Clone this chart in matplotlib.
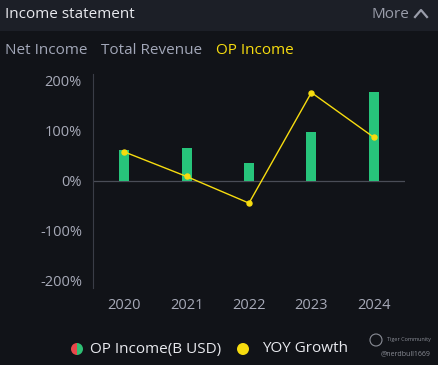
import numpy as np
import matplotlib.pyplot as plt
from matplotlib.patches import Rectangle, Wedge

# datos
years = ["2020", "2021", "2022", "2023", "2024"]
op_income = [1.21, 1.31, 0.71, 1.92, 3.52]   # B USD (escala secundaria oculta)
yoy_growth = [57, 8, -45, 175, 86]            # %
pct_ticks = [-200, -100, 0, 100, 200]
tabs = ["Net Income", "Total Revenue", "OP Income"]

BG = "#111318"
HEADER = "#1c1f27"
GREY = "#a7aab8"
GREEN = "#27c47b"
YELLOW = "#f7dc0f"

plt.rcParams['font.family'] = ['Open Sans', 'DejaVu Sans']

W, H = 439, 365
fig = plt.figure(figsize=(W / 100, H / 100), dpi=100, facecolor=BG)

# cabecera
fig.patches.append(Rectangle((0, 1 - 31 / H), 1, 31 / H, transform=fig.transFigure,
                             facecolor=HEADER, edgecolor="none", zorder=0))
fig.text(5 / W, 1 - 14 / H, "Income statement", color="#e8e9ee", fontsize=11,
         va="center", ha="left")
fig.text(409 / W, 1 - 14 / H, "More", color="#9a9daa", fontsize=11,
         va="center", ha="right")
fig.lines.append(plt.Line2D([415 / W, 421 / W, 427 / W],
                            [1 - 17 / H, 1 - 10 / H, 1 - 17 / H],
                            transform=fig.transFigure, color="#9a9daa", lw=1.6))

# pestañas
tab_x = [5, 101, 216]
tab_colors = ["#a2a7b8", "#a2a7b8", YELLOW]
for t, x, c in zip(tabs, tab_x, tab_colors):
    fig.text(x / W, 1 - 51 / H, t, color=c, fontsize=11, va="center", ha="left")

# ejes principales (porcentaje)
left, right = 93, 405
top, bottom = 80, 281
ax = fig.add_axes([left / W, 1 - bottom / H, (right - left) / W, (bottom - top) / H])
ax.set_facecolor("none")
ax.set_xlim(-0.5, len(years) - 0.5)
ax.set_ylim(-200, 200)
ax.set_yticks(pct_ticks)
ax.set_yticklabels([f"{v}%" for v in pct_ticks])
ax.set_xticks(range(len(years)))
ax.set_xticklabels(years)
ax.tick_params(axis="both", length=0, colors=GREY, labelsize=10.5)
ax.tick_params(axis="y", pad=8)
ax.tick_params(axis="x", pad=12)
for s in ["top", "right", "bottom"]:
    ax.spines[s].set_visible(False)
ax.spines["left"].set_color("#3a3d47")
ax.spines["left"].set_bounds(-214, 212)
ax.axhline(0, color="#4a4d57", lw=0.9, zorder=1)

# barras en eje secundario
ax2 = ax.twinx()
ax2.set_ylim(-4, 4)
ax2.axis("off")
ax2.bar(range(len(years)), op_income, width=0.16, color=GREEN, zorder=2)

# linea de crecimiento
ax3 = ax.twinx()
ax3.set_ylim(-200, 200)
ax3.axis("off")
ax3.plot(range(len(years)), yoy_growth, color=YELLOW, lw=1.0, marker="o",
         markersize=3.6, zorder=3)

# leyenda
r = 6
lax = fig.add_axes([0, 0, 1, 1], facecolor="none")
lax.set_xlim(0, W)
lax.set_ylim(H, 0)
lax.axis("off")
lax.add_patch(Wedge((77, 349), r, 90, 270, facecolor="#e8474a", edgecolor="none"))
lax.add_patch(Wedge((77, 349), r, 270, 90, facecolor="#2fbf74", edgecolor="none"))
lax.add_patch(plt.Circle((243, 349), r, facecolor=YELLOW, edgecolor="none"))
lax.text(90, 349, "OP Income(B USD)", color="#e8e9ee", fontsize=11, va="center")
lax.text(262, 349, "YOY Growth", color="#e8e9ee", fontsize=11, va="center")

# marca de agua
lax.add_patch(plt.Circle((376, 340), 6, facecolor="none", edgecolor="#8a8d96", lw=0.8))
lax.text(387, 340, "Tiger Community", color="#8a8d96", fontsize=4, va="center")
lax.text(431, 354, "@nerdbull1669", color="#8a8d96", fontsize=5, va="center", ha="right")

fig.savefig("out.png", dpi=100, facecolor=BG)
